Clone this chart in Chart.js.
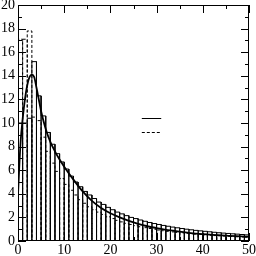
<!DOCTYPE html>
<html>
<head>
<meta charset="utf-8">
<script src="https://cdn.jsdelivr.net/npm/chart.js@4/dist/chart.umd.min.js"></script>
<style>
  html, body { margin: 0; padding: 0; background: #fff; }
  #wrap { width: 256px; height: 256px; }
</style>
</head>
<body>
<div id="wrap"><canvas id="chart" width="256" height="256"></canvas></div>
<script>
// bin heights, one per unit bin from 0 to 50
const solidBins = [10.0, 10.0, 10.4, 15.2, 12.3, 10.6, 9.2, 8.2, 7.4, 6.7,
  6.1, 5.5, 5.0, 4.6, 4.2, 3.9, 3.6, 3.3, 3.1, 2.85,
  2.65, 2.45, 2.3, 2.15, 2.0, 1.9, 1.78, 1.67, 1.57, 1.48,
  1.4, 1.32, 1.25, 1.18, 1.12, 1.06, 1.0, 0.95, 0.9, 0.86,
  0.82, 0.78, 0.74, 0.7, 0.67, 0.64, 0.61, 0.58, 0.55, 0.52];
const dashedBins = [17.1, 17.1, 17.8, 10.5, 10.2, 8.8, 7.6, 6.6, 5.9, 5.3,
  4.8, 4.3, 3.9, 3.5, 3.2, 2.9, 2.65, 2.45, 2.25, 2.05,
  1.9, 1.75, 1.62, 1.5, 1.4, 1.3, 1.21, 1.13, 1.06, 0.99,
  0.93, 0.87, 0.82, 0.77, 0.73, 0.69, 0.65, 0.61, 0.58, 0.55,
  0.52, 0.49, 0.46, 0.44, 0.42, 0.4, 0.38, 0.36, 0.34, 0.32];

// smooth curve
const curveX = [0, 0.3, 0.6, 1, 1.5, 2, 2.5, 3, 3.5, 4, 4.5, 5, 6, 7, 8, 9, 10,
  12, 14, 16, 18, 20, 22, 24, 26, 28, 30, 33, 36, 40, 45, 50];
const curveY = [3.9, 6.5, 8.6, 10.3, 12.0, 13.2, 13.9, 14.1, 13.9, 13.0, 12.0, 11.0, 9.5, 8.4, 7.6, 6.9, 6.3,
  5.2, 4.2, 3.4, 2.8, 2.35, 2.0, 1.7, 1.45, 1.25, 1.1, 0.9, 0.75, 0.58, 0.45, 0.36];

const xTicks = [0, 10, 20, 30, 40, 50];
const yTicks = [0, 2, 4, 6, 8, 10, 12, 14, 16, 18, 20];

const serif = "'Liberation Serif', 'DejaVu Serif', serif";

// outline of a histogram, every bin closed down to zero
function histOutline(bins) {
  let pts = [];
  bins.forEach((h, i) => {
    pts.push({x: i, y: 0}, {x: i, y: h}, {x: i + 1, y: h}, {x: i + 1, y: 0});
  });
  return pts;
}

const curve = curveX.map((x, i) => ({x: x, y: curveY[i]}));

// frame with inward ticks on all four sides
const frameTicks = {
  id: 'frameTicks',
  afterDatasetsDraw(chart) {
    const ctx = chart.ctx;
    const a = chart.chartArea;
    const xs = chart.scales.x, ys = chart.scales.y;
    ctx.save();
    ctx.strokeStyle = '#000';
    ctx.lineWidth = 1;
    ctx.strokeRect(a.left + 0.5, a.top + 0.5, a.right - a.left - 1, a.bottom - a.top - 1);
    ctx.beginPath();
    for (let v = 0; v <= 50; v += 5) {
      const len = v % 10 == 0 ? 8 : 4;
      const px = Math.round(xs.getPixelForValue(v)) + 0.5;
      ctx.moveTo(px, a.bottom); ctx.lineTo(px, a.bottom - len);
      ctx.moveTo(px, a.top); ctx.lineTo(px, a.top + len);
    }
    for (let v = 0; v <= 20; v += 1) {
      const len = v % 2 == 0 ? 8 : 4;
      const py = Math.round(ys.getPixelForValue(v)) + 0.5;
      ctx.moveTo(a.left, py); ctx.lineTo(a.left + len, py);
      ctx.moveTo(a.right, py); ctx.lineTo(a.right - len, py);
    }
    ctx.stroke();

    // legend samples, no labels in the original
    const lx0 = xs.getPixelForValue(26.8), lx1 = xs.getPixelForValue(31);
    let py = Math.round(ys.getPixelForValue(10.45)) + 0.5;
    ctx.beginPath(); ctx.moveTo(lx0, py); ctx.lineTo(lx1, py); ctx.stroke();
    py = Math.round(ys.getPixelForValue(9.2)) + 0.5;
    ctx.setLineDash([3, 2]);
    ctx.beginPath(); ctx.moveTo(lx0, py); ctx.lineTo(lx1, py); ctx.stroke();
    ctx.restore();
  }
};

const chart = new Chart(document.getElementById('chart'), {
  type: 'scatter',
  data: {
    datasets: [
      { data: curve, showLine: true, borderColor: '#000', borderWidth: 1.8,
        pointRadius: 0, cubicInterpolationMode: 'monotone', order: 0 },
      { data: histOutline(solidBins), showLine: true, borderColor: '#000', borderWidth: 1,
        pointRadius: 0, tension: 0, order: 1 },
      { data: histOutline(dashedBins), showLine: true, borderColor: '#000', borderWidth: 1,
        borderDash: [3, 2], pointRadius: 0, tension: 0, order: 2 }
    ]
  },
  options: {
    responsive: false,
    animation: false,
    layout: { padding: { top: 5, right: 7, left: 0, bottom: 0 } },
    plugins: { legend: { display: false }, tooltip: { enabled: false } },
    scales: {
      x: {
        type: 'linear', min: 0, max: 50,
        grid: { display: false, drawTicks: false },
        border: { display: false },
        ticks: { color: '#000', padding: 1, maxRotation: 0, font: { family: serif, size: 14 } },
        afterBuildTicks: s => { s.ticks = xTicks.map(v => ({value: v})); },
        afterFit: s => { s.height = 15; s.paddingLeft = 0; s.paddingRight = 0; }
      },
      y: {
        type: 'linear', min: 0, max: 20,
        grid: { display: false, drawTicks: false },
        border: { display: false },
        ticks: { color: '#000', padding: 3, font: { family: serif, size: 14 } },
        afterBuildTicks: s => { s.ticks = yTicks.map(v => ({value: v})); },
        afterFit: s => { s.width = 18; s.paddingTop = 0; s.paddingBottom = 0; }
      }
    }
  },
  plugins: [frameTicks]
});
</script>
</body>
</html>
